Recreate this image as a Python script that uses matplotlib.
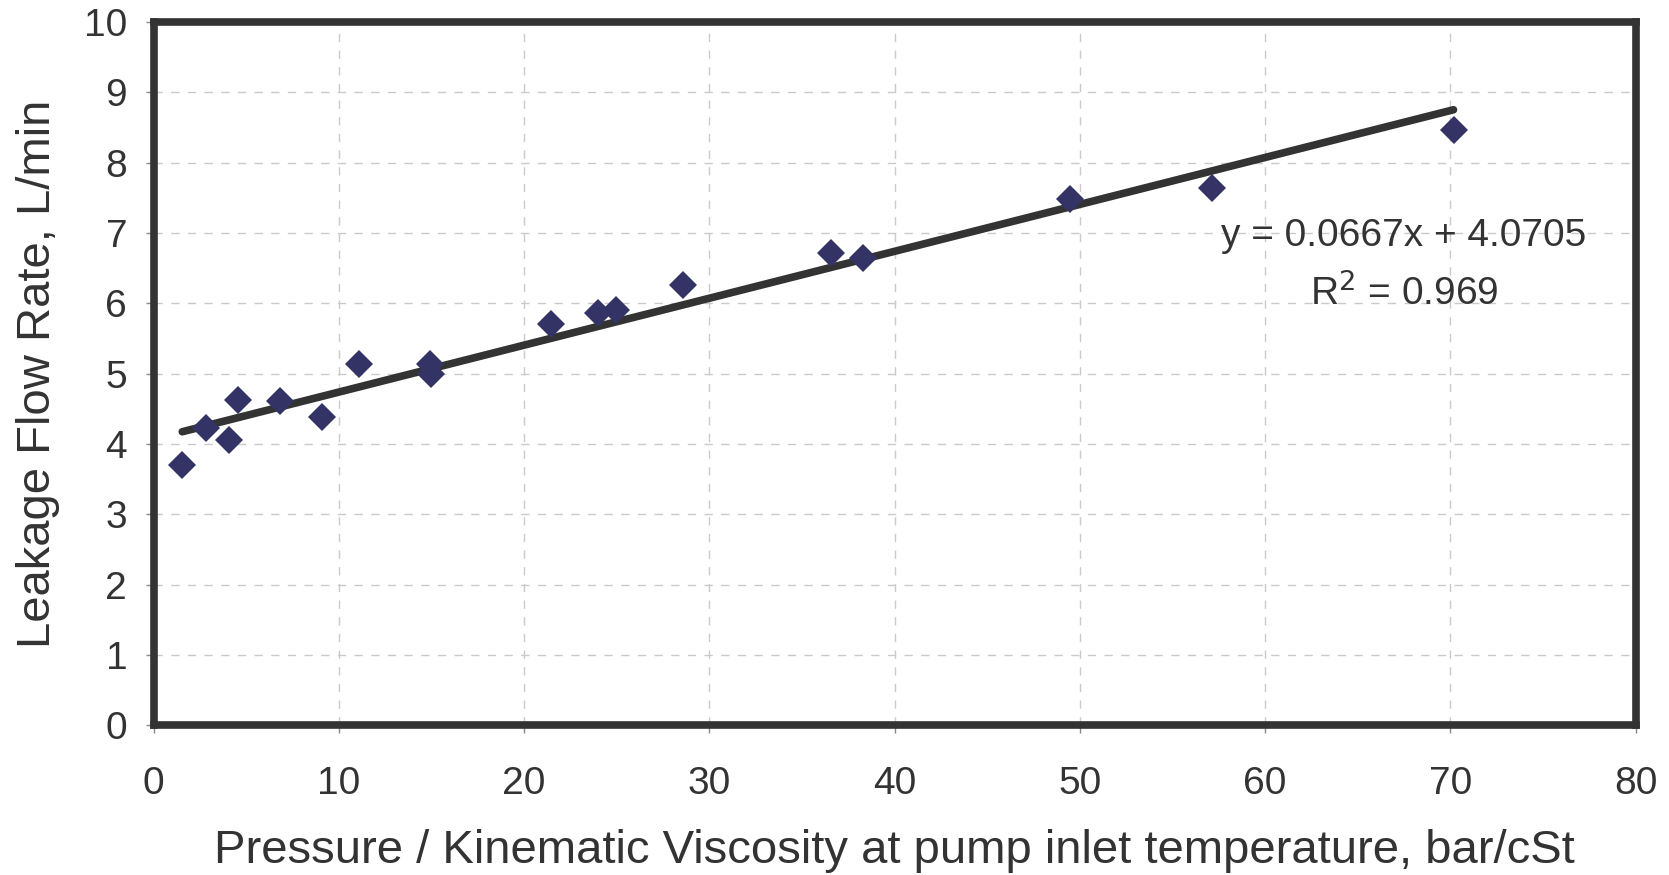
import matplotlib
matplotlib.use("Agg")
import matplotlib.pyplot as plt
import numpy as np

plt.rcParams['font.family'] = ['Liberation Sans', 'DejaVu Sans']

x_vals = [1.55, 2.82, 4.08, 4.54, 6.84, 9.08, 11.09, 14.94, 15.0, 21.44,
          23.97, 24.94, 28.56, 36.55, 38.28, 49.48, 57.13, 70.17]
y_vals = [3.70, 4.23, 4.05, 4.62, 4.61, 4.38, 5.14, 5.14, 5.00, 5.70,
          5.86, 5.91, 6.26, 6.71, 6.65, 7.48, 7.64, 8.47]
slope = 0.0667
intercept = 4.0705
r2 = 0.969
x_ticks = [0, 10, 20, 30, 40, 50, 60, 70, 80]
y_ticks = [0, 1, 2, 3, 4, 5, 6, 7, 8, 9, 10]

fig = plt.figure(figsize=(16.69, 8.75), dpi=100)
ax = fig.add_axes([0.092, 0.171, 0.888, 0.804])

ax.grid(True, linestyle=(0, (6, 6)), color='#cfc8c8', linewidth=1.0)
ax.set_axisbelow(True)

tx = np.array([min(x_vals), max(x_vals)])
ax.plot(tx, slope * tx + intercept, color='#333333', linewidth=5.5,
        solid_capstyle='round', zorder=2)
ax.plot(x_vals, y_vals, linestyle='none', marker='D', markersize=14,
        color='#333366', markeredgewidth=0, zorder=3)

ax.set_xlim(0, 80)
ax.set_ylim(0, 10)
ax.set_xticks(x_ticks)
ax.set_yticks(y_ticks)

for s in ax.spines.values():
    s.set_linewidth(5.5)
    s.set_color('#333333')

ax.tick_params(axis='both', direction='out', length=6, width=1, color='#888888',
               labelsize=28, labelcolor='#333333')
ax.tick_params(axis='x', pad=23)
ax.tick_params(axis='y', pad=13)

ax.set_xlabel('Pressure / Kinematic Viscosity at pump inlet temperature, bar/cSt',
              fontsize=34, color='#333333', labelpad=20)
ax.set_ylabel('Leakage Flow Rate, L/min', fontsize=34, color='#333333', labelpad=17)

ax.text(67.5, 6.95, 'y = 0.0667x + 4.0705', fontsize=28, color='#333333',
        ha='center', va='center')
ax.text(67.5, 6.15, 'R$^2$ = 0.969', fontsize=28, color='#333333',
        ha='center', va='center')

fig.savefig('out.png', dpi=100)
